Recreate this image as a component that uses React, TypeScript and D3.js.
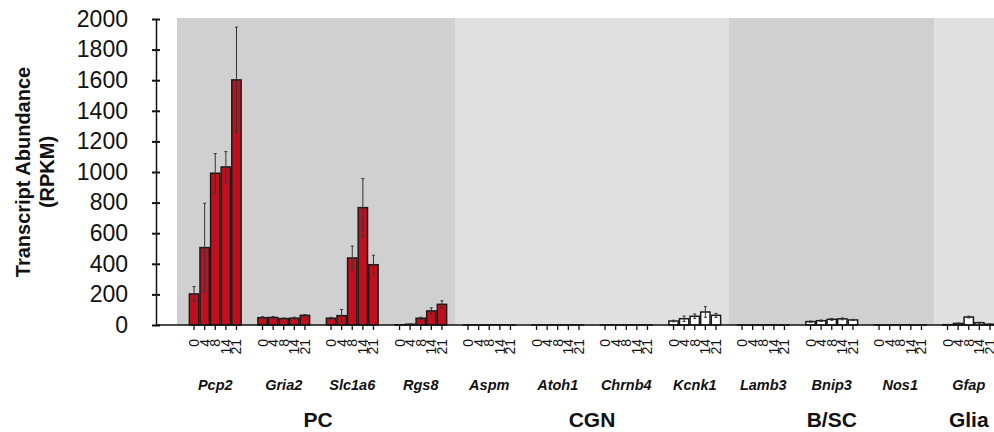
import { useEffect, useRef } from "react"
import * as d3 from "d3"

const genes = ["Pcp2", "Gria2", "Slc1a6", "Rgs8", "Aspm", "Atoh1", "Chrnb4", "Kcnk1", "Lamb3", "Bnip3", "Nos1", "Gfap"]
const geneCellType = ["PC", "PC", "PC", "PC", "CGN", "CGN", "CGN", "CGN", "B/SC", "B/SC", "B/SC", "Glia"]
const cellTypes = ["PC", "CGN", "B/SC", "Glia"]
const ages = ["0", "4", "8", "14", "21"]

// mean RPKM per age (P0, P4, P8, P14, P21)
const pcp2 = [203, 506, 992, 1033, 1602]
const gria2 = [48, 49, 42, 45, 63]
const slc1a6 = [44, 61, 438, 767, 394]
const rgs8 = [1, 5, 44, 92, 135]
const aspm = [0.5, 0.5, 0.5, 0.5, 0.5]
const atoh1 = [0.5, 0.5, 0.5, 0.5, 0.5]
const chrnb4 = [0.5, 0.5, 0.5, 0.5, 0.5]
const kcnk1 = [26, 41, 57, 85, 63]
const lamb3 = [0.5, 0.5, 0.5, 0.5, 0.5]
const bnip3 = [22, 28, 37, 40, 33]
const nos1 = [0.5, 0.5, 0.5, 0.5, 0.5]
const gfap = [2, 10, 52, 15, 5]

// error (+/-)
const pcp2Err = [48, 290, 128, 100, 345]
const gria2Err = [6, 7, 4, 6, 5]
const slc1a6Err = [6, 40, 78, 190, 62]
const rgs8Err = [0, 1, 7, 20, 24]
const aspmErr = [0, 0, 0, 0, 0]
const atoh1Err = [0, 0, 0, 0, 0]
const chrnb4Err = [0, 0, 0, 0, 0]
const kcnk1Err = [5, 18, 15, 35, 13]
const lamb3Err = [0, 0, 0, 0, 0]
const bnip3Err = [4, 5, 6, 6, 4]
const nos1Err = [0, 0, 0, 0, 0]
const gfapErr = [1, 3, 6, 3, 1]

const values = [pcp2, gria2, slc1a6, rgs8, aspm, atoh1, chrnb4, kcnk1, lamb3, bnip3, nos1, gfap]
const errors = [pcp2Err, gria2Err, slc1a6Err, rgs8Err, aspmErr, atoh1Err, chrnb4Err, kcnk1Err, lamb3Err, bnip3Err, nos1Err, gfapErr]

const yTicks = [0, 200, 400, 600, 800, 1000, 1200, 1400, 1600, 1800, 2000]

const FONT = "'Liberation Sans', Arial, sans-serif"

export default function App() {
  const svgRef = useRef<SVGSVGElement>(null)

  useEffect(() => {
    if (!svgRef.current) return
    const svg = d3.select(svgRef.current)
    svg.selectAll("*").remove()

    const x0 = d3.scaleBand().domain(genes).range([181, 181 + 12 * 68.5]).padding(0)
    const x1 = d3
      .scaleBand()
      .domain(ages)
      .range([0, x0.bandwidth()])
      .paddingInner(0.12)
      .paddingOuter(0.79)
    const y = d3.scaleLinear().domain([0, 2000]).range([325, 19])

    // cell type backgrounds
    cellTypes.forEach((ct, i) => {
      const idx = geneCellType.map((c, j) => (c === ct ? j : -1)).filter((j) => j >= 0)
      const left = x0(genes[idx[0]])!
      const right = x0(genes[idx[idx.length - 1]])! + x0.bandwidth()
      svg
        .append("rect")
        .attr("x", i === 0 ? 177 : left)
        .attr("y", 18)
        .attr("width", right - (i === 0 ? 177 : left))
        .attr("height", y(0) - 18)
        .attr("fill", i % 2 === 0 ? "#d0d0d0" : "#e0e0e0")
      svg
        .append("text")
        .attr("x", (left + right) / 2)
        .attr("y", 427)
        .attr("text-anchor", "middle")
        .attr("font-family", FONT)
        .attr("font-weight", "bold")
        .attr("font-size", "21px")
        .attr("fill", "#111")
        .text(ct)
    })

    // bars
    genes.forEach((g, gi) => {
      const isPC = geneCellType[gi] === "PC"
      const grp = svg.append("g").attr("transform", `translate(${x0(g)},0)`)
      grp
        .selectAll("rect")
        .data(values[gi])
        .enter()
        .append("rect")
        .attr("x", (_, i) => x1(ages[i])!)
        .attr("y", (d) => y(d))
        .attr("width", x1.bandwidth())
        .attr("height", (d) => y(0) - y(d))
        .attr("fill", isPC ? "#c0101e" : "#ffffff")
        .attr("stroke", "#1a1a1a")
        .attr("stroke-width", 1.5)

      // error bars
      values[gi].forEach((v, i) => {
        const e = errors[gi][i]
        if (!e) return
        const cx = x1(ages[i])! + x1.bandwidth() / 2
        grp
          .append("line")
          .attr("x1", cx)
          .attr("x2", cx)
          .attr("y1", y(v + e))
          .attr("y2", y(Math.max(0, v - e)))
          .attr("stroke", "#333")
          .attr("stroke-width", 1)
        ;[v + e, Math.max(0, v - e)].forEach((yv) => {
          grp
            .append("line")
            .attr("x1", cx - 1.5)
            .attr("x2", cx + 1.5)
            .attr("y1", y(yv))
            .attr("y2", y(yv))
            .attr("stroke", "#333")
            .attr("stroke-width", 1)
        })
      })

      // age ticks and labels
      ages.forEach((a) => {
        const cx = x1(a)! + x1.bandwidth() / 2
        grp
          .append("line")
          .attr("x1", cx)
          .attr("x2", cx)
          .attr("y1", y(0))
          .attr("y2", y(0) + 5)
          .attr("stroke", "#111")
          .attr("stroke-width", 1.3)
        grp
          .append("text")
          .attr("transform", `translate(${cx + 5},339) rotate(-90)`)
          .attr("text-anchor", "end")
          .attr("font-family", FONT)
          .attr("font-size", "14px")
          .attr("fill", "#111")
          .text(a)
      })

      grp
        .append("text")
        .attr("x", x0.bandwidth() / 2)
        .attr("y", 390)
        .attr("text-anchor", "middle")
        .attr("font-family", FONT)
        .attr("font-weight", "bold")
        .attr("font-style", "italic")
        .attr("font-size", "14.5px")
        .attr("fill", "#111")
        .text(g)
    })

    // x axis line
    svg
      .append("line")
      .attr("x1", 156)
      .attr("x2", 994)
      .attr("y1", y(0))
      .attr("y2", y(0))
      .attr("stroke", "#111")
      .attr("stroke-width", 1.5)

    // y axis
    const yAxis = svg
      .append("g")
      .attr("transform", "translate(156,0)")
      .call(
        d3
          .axisLeft(y)
          .tickValues(yTicks)
          .tickSize(4)
          .tickSizeOuter(0)
          .tickFormat(d3.format("d")),
      )
    yAxis.select(".domain").attr("stroke", "#111").attr("stroke-width", 1.5)
    yAxis
      .selectAll(".tick line")
      .attr("x1", -4)
      .attr("x2", 4)
      .attr("stroke", "#111")
      .attr("stroke-width", 2)
    yAxis
      .selectAll(".tick text")
      .attr("font-family", FONT)
      .attr("font-size", "23px")
      .attr("fill", "#111")
      .attr("x", -28)

    // y title
    const title = svg
      .append("text")
      .attr("transform", "translate(0,172) rotate(-90)")
      .attr("text-anchor", "middle")
      .attr("font-family", FONT)
      .attr("font-weight", "bold")
      .attr("font-size", "20px")
      .attr("fill", "#111")
    title.append("tspan").attr("x", 0).attr("y", 30).text("Transcript Abundance")
    title.append("tspan").attr("x", 0).attr("y", 54).text("(RPKM)")
  }, [])

  return (
    <svg
      ref={svgRef}
      width={994}
      height={432}
      style={{ position: "absolute", left: 0, top: 0, background: "#fff" }}
    />
  )
}
